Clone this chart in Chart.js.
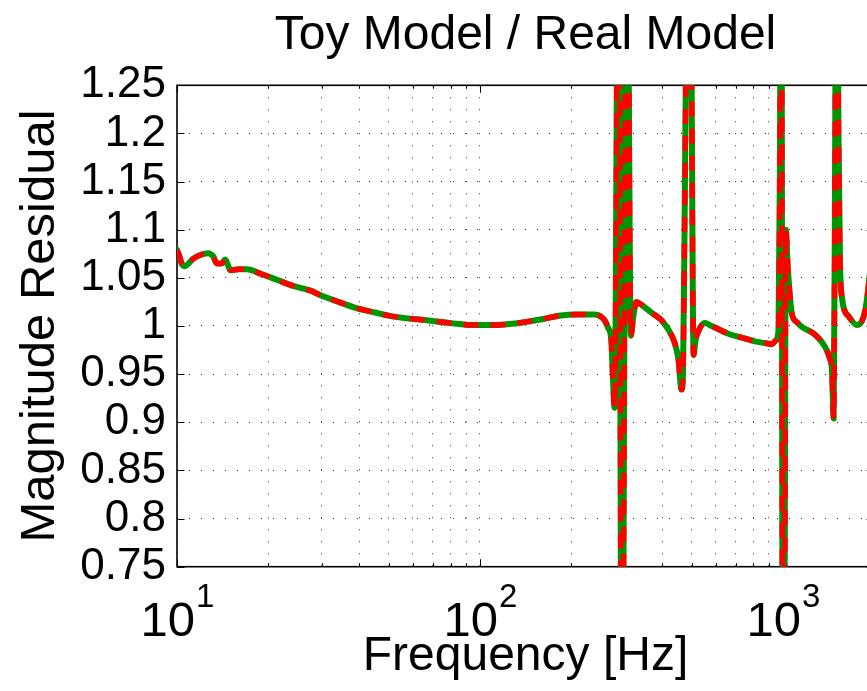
<!DOCTYPE html>
<html>
<head>
<meta charset="utf-8">
<script src="https://cdn.jsdelivr.net/npm/chart.js@4"></script>
<style>
  html, body { margin: 0; padding: 0; background: #ffffff; overflow: hidden; width: 867px; height: 691px; }
  canvas { display: block; }
</style>
</head>
<body>
<canvas id="chart" width="920" height="691"></canvas>
<script>
// ---- data ----
const chartTitle = 'Toy Model / Real Model';
const xAxisTitle = 'Frequency [Hz]';
const yAxisTitle = 'Magnitude Residual';

const frequencies = [
  10, 10.2, 10.36, 10.63, 11.0, 11.32, 12.0, 12.69, 13.0, 13.19, 13.52, 14.06, 14.42, 14.7, 14.98,
  16.0, 17.02, 19.0, 21.37, 24.0, 27.6, 29.8, 33.5, 38.4, 45, 52, 65.5, 80, 95, 110, 125, 140, 160,
  185, 210, 239, 250, 258, 265, 271.6, 274.5, 278.4, 287.1, 294.2, 305.6, 315.0, 321,
  328.6, 341.4, 368.3, 397.6, 419.4, 440, 452.3, 463, 468.2, 473.8, 481, 488.4, 497.8, 507.5, 515,
  527, 553, 582, 661, 731.6, 807.6, 885, 919.6, 948, 968, 977.5, 988.6, 1000, 1011.6, 1023, 1039,
  1071, 1113, 1156, 1279, 1381, 1430, 1453, 1472, 1487, 1504, 1527, 1544, 1567, 1650, 1759, 1873,
  1922, 1971, 2000
];

const residualGreen = [
  1.079, 1.072, 1.065, 1.062, 1.066, 1.070, 1.074, 1.0755, 1.074, 1.072, 1.065, 1.065, 1.069, 1.064, 1.058,
  1.059, 1.059, 1.054, 1.048, 1.042, 1.0367, 1.032, 1.026, 1.0194, 1.014, 1.0097, 1.0062, 1.003, 1.001, 1.001, 1.002, 1.004, 1.007,
  1.011, 1.012, 1.012, 1.010, 1.006, 0.998, 0.985, 0.95, 0.915, 1.5, 0.5, 1.5, 0.99, 1.01,
  1.025, 1.022, 1.014, 1.006, 0.996, 0.982, 0.965, 0.934, 0.95, 1.1, 1.35, 1.6, 1.35, 0.97, 0.985,
  0.995, 1.003, 1.000, 0.992, 0.988, 0.984, 0.982, 0.981, 0.985, 0.996, 1.15, 1.5, 0.5, 0.6, 1.10, 1.06,
  1.013, 1.004, 0.999, 0.991, 0.978, 0.966, 0.954, 0.904, 1.15, 1.5, 1.2, 1.07, 1.03, 1.010, 1.001, 1.017,
  1.044, 1.08, 1.12
];

const residualRed = [
  1.079, 1.072, 1.065, 1.062, 1.066, 1.070, 1.074, 1.0755, 1.074, 1.072, 1.065, 1.065, 1.069, 1.064, 1.058,
  1.059, 1.059, 1.054, 1.048, 1.042, 1.0367, 1.032, 1.026, 1.0194, 1.014, 1.0097, 1.0062, 1.003, 1.001, 1.001, 1.002, 1.004, 1.007,
  1.011, 1.012, 1.012, 1.010, 1.006, 0.998, 0.985, 0.95, 0.915, 1.5, 0.5, 1.5, 0.99, 1.01,
  1.025, 1.022, 1.014, 1.006, 0.996, 0.982, 0.965, 0.934, 0.95, 1.1, 1.35, 1.6, 1.35, 0.97, 0.985,
  0.995, 1.003, 1.000, 0.992, 0.988, 0.984, 0.982, 0.981, 0.985, 0.996, 1.15, 1.5, 0.5, 0.6, 1.10, 1.06,
  1.013, 1.004, 0.999, 0.991, 0.978, 0.966, 0.954, 0.904, 1.15, 1.5, 1.2, 1.07, 1.03, 1.010, 1.001, 1.017,
  1.044, 1.08, 1.12
];

const yTickValues = [0.75, 0.8, 0.85, 0.9, 0.95, 1, 1.05, 1.1, 1.15, 1.2, 1.25];
const yTickLabels = ['0.75', '0.8', '0.85', '0.9', '0.95', '1', '1.05', '1.1', '1.15', '1.2', '1.25'];
const xGridValues = [10, 20, 30, 40, 50, 60, 70, 80, 90, 100, 200, 300, 400, 500, 600, 700, 800, 900, 1000, 2000];
const xMajorValues = [10, 100, 1000];
const xLabelBases = ['10', '10', '10'];
const xLabelExponents = ['1', '2', '3'];

// ---- styling ----
const FONT = "'Liberation Sans', Arial, Helvetica, sans-serif";
const GRID_COLOR = 'rgba(0,0,0,0.8)';
const GRID_DASH = [1, 11];

const toPoints = (ys) => frequencies.map((f, i) => ({ x: f, y: ys[i] }));

const matlabAxesPlugin = {
  id: 'matlabAxes',
  beforeDatasetsDraw(chart) {
    const { ctx, chartArea: a, scales: { x, y } } = chart;
    ctx.save();
    ctx.strokeStyle = '#000';
    ctx.lineWidth = 1;
    yTickValues.forEach(v => {
      const py = Math.round(y.getPixelForValue(v)) + 0.5;
      ctx.beginPath();
      ctx.moveTo(a.left, py); ctx.lineTo(a.left + 7.5, py);
      ctx.moveTo(a.right, py); ctx.lineTo(a.right - 7.5, py);
      ctx.stroke();
    });
    xGridValues.forEach(v => {
      const px = Math.round(x.getPixelForValue(v)) + 0.5;
      const len = xMajorValues.includes(v) ? 7.5 : 3.5;
      ctx.beginPath();
      ctx.moveTo(px, a.bottom); ctx.lineTo(px, a.bottom - len);
      ctx.moveTo(px, a.top); ctx.lineTo(px, a.top + len);
      ctx.stroke();
    });
    ctx.lineWidth = 1.6;
    ctx.strokeRect(a.left, a.top, a.right - a.left, a.bottom - a.top);
    ctx.restore();
  },
  afterDraw(chart) {
    const { ctx, scales: { x } } = chart;
    ctx.save();
    ctx.fillStyle = '#000';
    ctx.textBaseline = 'alphabetic';
    ctx.textAlign = 'left';
    xMajorValues.forEach((v, i) => {
      const px = x.getPixelForValue(v);
      ctx.font = '49px ' + FONT;
      const wb = ctx.measureText(xLabelBases[i]).width;
      ctx.font = '33px ' + FONT;
      const we = ctx.measureText(xLabelExponents[i]).width;
      const start = px - (wb + we) / 2;
      ctx.font = '49px ' + FONT;
      ctx.fillText(xLabelBases[i], start, 636);
      ctx.font = '33px ' + FONT;
      ctx.fillText(xLabelExponents[i], start + wb + 1, 607);
    });
    ctx.restore();
  }
};

new Chart(document.getElementById('chart'), {
  type: 'line',
  data: {
    datasets: [
      {
        label: 'Real Model',
        data: toPoints(residualRed),
        borderColor: '#ff0000',
        borderWidth: 5.5,
        borderDash: [15, 12],
        borderCapStyle: 'butt',
        borderJoinStyle: 'round',
        pointRadius: 0,
        cubicInterpolationMode: 'monotone',
        clip: 0,
        order: 1
      },
      {
        label: 'Toy Model',
        data: toPoints(residualGreen),
        borderColor: '#009600',
        borderWidth: 6,
        borderCapStyle: 'round',
        borderJoinStyle: 'round',
        pointRadius: 0,
        cubicInterpolationMode: 'monotone',
        clip: 0,
        order: 2
      }
    ]
  },
  options: {
    responsive: false,
    animation: false,
    devicePixelRatio: 1,
    layout: { padding: { left: 0, right: 46, top: 0, bottom: 0 } },
    plugins: {
      legend: { display: false },
      tooltip: { enabled: false },
      title: {
        display: true,
        text: chartTitle,
        fullSize: false,
        color: '#000',
        font: { family: FONT, size: 48, weight: 'normal', lineHeight: 1.2 },
        padding: { top: 6.6, bottom: 21.1 }
      }
    },
    scales: {
      x: {
        type: 'logarithmic',
        position: 'bottom',
        min: 10,
        max: 2000,
        afterBuildTicks: (s) => { s.ticks = xGridValues.map(v => ({ value: v, major: xMajorValues.includes(v) })); },
        afterFit: (s) => { s.height = 124.3; },
        ticks: { display: false, autoSkip: false },
        grid: { color: GRID_COLOR, lineWidth: 1, drawTicks: false },
        border: { display: false, dash: GRID_DASH },
        title: {
          display: true,
          text: xAxisTitle,
          color: '#000',
          font: { family: FONT, size: 48, weight: 'normal', lineHeight: 1.2 },
          padding: { top: 0, bottom: 5.8 }
        }
      },
      y: {
        type: 'linear',
        position: 'left',
        min: 0.75,
        max: 1.25,
        afterBuildTicks: (s) => { s.ticks = yTickValues.map(v => ({ value: v })); },
        afterFit: (s) => { s.width = 177; },
        ticks: {
          autoSkip: false,
          color: '#000',
          padding: 11,
          font: { family: FONT, size: 44, weight: 'normal' },
          callback: (value, index) => yTickLabels[index]
        },
        grid: { color: GRID_COLOR, lineWidth: 1, drawTicks: false },
        border: { display: false, dash: GRID_DASH },
        title: {
          display: true,
          text: yAxisTitle,
          color: '#000',
          font: { family: FONT, size: 49, weight: 'normal', lineHeight: 1.2 },
          padding: { top: 10.6, bottom: 0 }
        }
      }
    }
  },
  plugins: [matlabAxesPlugin]
});
</script>
</body>
</html>
